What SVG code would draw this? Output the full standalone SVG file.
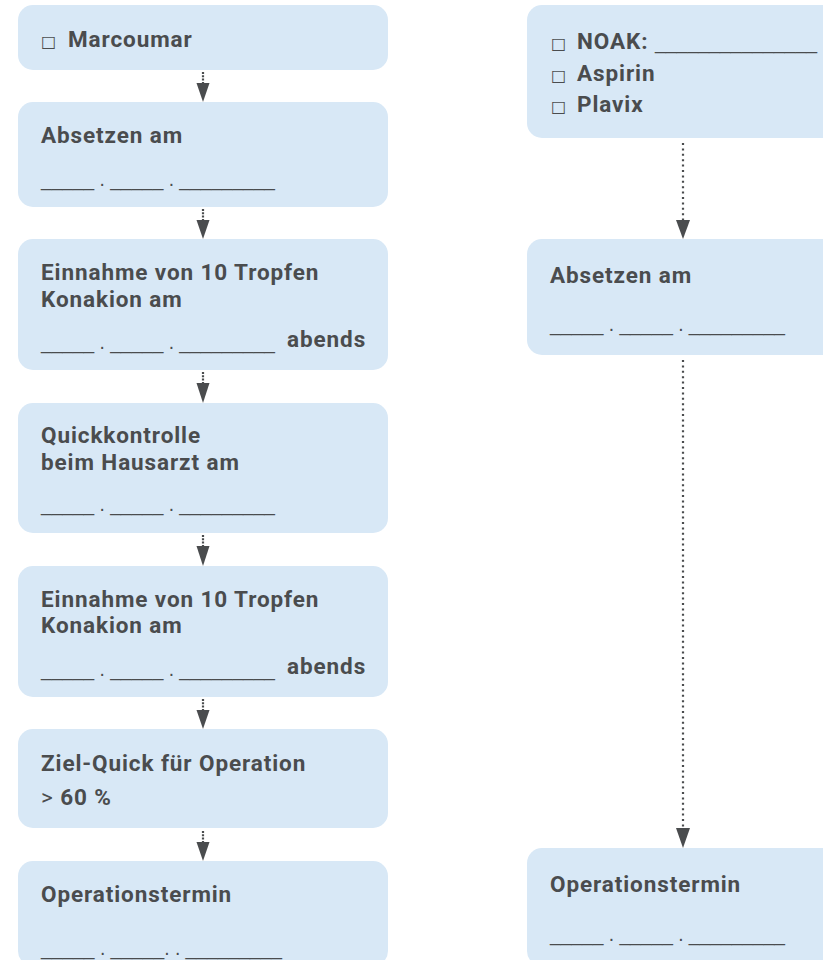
<svg xmlns="http://www.w3.org/2000/svg" width="823" height="960" viewBox="0 0 823 960">
<style>
.box{fill:#d8e8f6}
.t{font-family:Roboto,"Liberation Sans",sans-serif;font-weight:700;font-size:22.5px;letter-spacing:0.9px;fill:#4a4c4e}
.cb{font-family:"DejaVu Sans",sans-serif;font-weight:400;font-size:16px;letter-spacing:0}
.blank{font-family:"Liberation Sans",sans-serif;font-weight:400;font-size:20px;letter-spacing:0;fill:#4a4c4e}
.gt{font-weight:400}
.dl{stroke:#4a4c4e;stroke-width:2.2;fill:none}
.head{fill:#4a4c4e}
</style>
<rect width="823" height="960" fill="#ffffff"/>
<g id="n-marcoumar">
<rect class="box" x="18" y="5" width="370" height="65" rx="15"/>
<text class="t" x="41" y="47"><tspan class="cb">□</tspan><tspan x="68">Marcoumar</tspan></text>
</g>
<g id="n-absetzen-l">
<rect class="box" x="18" y="102" width="370" height="105" rx="15"/>
<text class="t" x="41" y="143">Absetzen am</text>
<text class="blank" x="41" y="186" textLength="234" lengthAdjust="spacingAndGlyphs">_____ . _____ . _________</text>
</g>
<g id="n-konakion1">
<rect class="box" x="18" y="239" width="370" height="131" rx="15"/>
<text class="t" x="41" y="280">Einnahme von 10 Tropfen</text>
<text class="t" x="41" y="307">Konakion am</text>
<text class="blank" x="41" y="349" textLength="234" lengthAdjust="spacingAndGlyphs">_____ . _____ . _________</text>
<text class="t" x="287" y="347">abends</text>
</g>
<g id="n-quick">
<rect class="box" x="18" y="403" width="370" height="130" rx="15"/>
<text class="t" x="41" y="443">Quickkontrolle</text>
<text class="t" x="41" y="470">beim Hausarzt am</text>
<text class="blank" x="41" y="511" textLength="234" lengthAdjust="spacingAndGlyphs">_____ . _____ . _________</text>
</g>
<g id="n-konakion2">
<rect class="box" x="18" y="566" width="370" height="131" rx="15"/>
<text class="t" x="41" y="607">Einnahme von 10 Tropfen</text>
<text class="t" x="41" y="633">Konakion am</text>
<text class="blank" x="41" y="676" textLength="234" lengthAdjust="spacingAndGlyphs">_____ . _____ . _________</text>
<text class="t" x="287" y="674">abends</text>
</g>
<g id="n-zielquick">
<rect class="box" x="18" y="729" width="370" height="99" rx="15"/>
<text class="t" x="41" y="771">Ziel-Quick für Operation</text>
<text class="t" x="41" y="805"><tspan class="gt">&gt;</tspan> 60 %</text>
</g>
<g id="n-op-l">
<rect class="box" x="18" y="861" width="370" height="105" rx="15"/>
<text class="t" x="41" y="902">Operationstermin</text>
<text class="blank" x="41" y="955" textLength="241" lengthAdjust="spacingAndGlyphs">_____ . _____. . _________</text>
</g>
<g id="n-noak">
<rect class="box" x="527" y="5" width="310" height="133" rx="15"/>
<text class="t" x="551" y="49"><tspan class="cb">□</tspan><tspan x="577">NOAK: </tspan><tspan class="blank" x="655" textLength="162" lengthAdjust="spacingAndGlyphs">_______________</tspan></text>
<text class="t" x="551" y="81"><tspan class="cb">□</tspan><tspan x="577">Aspirin</tspan></text>
<text class="t" x="551" y="112"><tspan class="cb">□</tspan><tspan x="577">Plavix</tspan></text>
</g>
<g id="n-absetzen-r">
<rect class="box" x="527" y="239" width="310" height="116" rx="15"/>
<text class="t" x="550" y="283">Absetzen am</text>
<text class="blank" x="550" y="331" textLength="235" lengthAdjust="spacingAndGlyphs">_____ . _____ . _________</text>
</g>
<g id="n-op-r">
<rect class="box" x="527" y="848" width="310" height="118" rx="15"/>
<text class="t" x="550" y="892">Operationstermin</text>
<text class="blank" x="550" y="941" textLength="235" lengthAdjust="spacingAndGlyphs">_____ . _____ . _________</text>
</g>
<g id="connectors">
<g class="dl" stroke-dasharray="2 1.3">
<line x1="203" y1="72" x2="203" y2="84"/>
<line x1="203" y1="209" x2="203" y2="221"/>
<line x1="203" y1="372" x2="203" y2="384"/>
<line x1="203" y1="535" x2="203" y2="547"/>
<line x1="203" y1="699" x2="203" y2="711"/>
<line x1="203" y1="831" x2="203" y2="843"/>
</g>
<g class="dl" stroke-dasharray="2 3.4">
<line x1="683" y1="143" x2="683" y2="221"/>
<line x1="683" y1="360" x2="683" y2="829"/>
</g>
<g class="head">
<polygon points="196.5,83 209.5,83 203,102"/>
<polygon points="196.5,220 209.5,220 203,239"/>
<polygon points="196.5,383 209.5,383 203,403"/>
<polygon points="196.5,546 209.5,546 203,566"/>
<polygon points="196.5,710 209.5,710 203,729"/>
<polygon points="196.5,842 209.5,842 203,861"/>
<polygon points="676,220 690,220 683,239"/>
<polygon points="676,828 690,828 683,848"/>
</g>
</g>
</svg>
